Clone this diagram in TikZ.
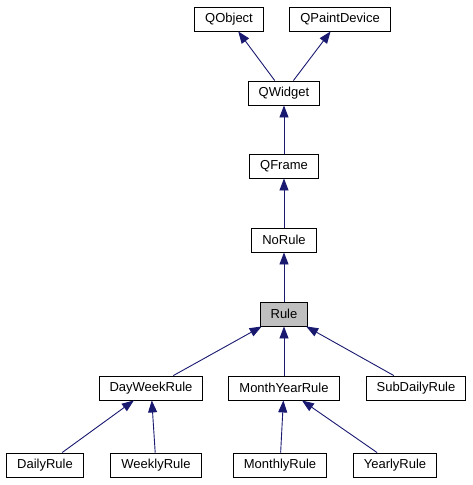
\documentclass[tikz,border=0pt]{standalone}
\usepackage{fontspec}
\setmainfont{Liberation Sans}
\definecolor{edgeblue}{RGB}{25, 25, 112}
\definecolor{rulegray}{RGB}{191, 191, 191}
\usetikzlibrary{arrows.meta, positioning}

\begin{document}
\begin{tikzpicture}[x=1pt, y=-1pt,
    cls/.style={draw, line width=0.9pt, minimum height=24pt, inner xsep=10.5pt, font=\fontsize{13}{15}\selectfont},
    inh/.style={draw=edgeblue, line width=0.9pt, -{Triangle[width=9pt, length=12pt]}, edgeblue}]
  \useasboundingbox (0,0) rectangle (473,485);

  % top classes
  \node[cls] (qobject) at (229,19) {QObject};
  \node[cls] (qpaint) at (340,19) {QPaintDevice};
  \node[cls] (qwidget) at (284,93) {QWidget};
  \node[cls] (qframe) at (284,166) {QFrame};
  \node[cls] (norule) at (284,240) {NoRule};
  \node[cls, fill=rulegray] (rule) at (284,314) {Rule};

  % derived rules
  \node[cls] (dayweek) at (151,388) {DayWeekRule};
  \node[cls] (monthyear) at (284,388) {MonthYearRule};
  \node[cls] (subdaily) at (416,388) {SubDailyRule};
  \node[cls] (daily) at (45,465) {DailyRule};
  \node[cls] (weekly) at (156,465) {WeeklyRule};
  \node[cls] (monthly) at (280,465) {MonthlyRule};
  \node[cls] (yearly) at (395,465) {YearlyRule};

  \draw[inh] (qwidget) -- (qobject);
  \draw[inh] (qwidget) -- (qpaint);
  \draw[inh] (qframe) -- (qwidget);
  \draw[inh] (norule) -- (qframe);
  \draw[inh] (rule) -- (norule);
  \draw[inh] (dayweek) -- (rule);
  \draw[inh] (monthyear) -- (rule);
  \draw[inh] (subdaily) -- (rule);
  \draw[inh] (daily) -- (dayweek);
  \draw[inh] (weekly) -- (dayweek);
  \draw[inh] (monthly) -- (monthyear);
  \draw[inh] (yearly) -- (monthyear);
\end{tikzpicture}
\end{document}
